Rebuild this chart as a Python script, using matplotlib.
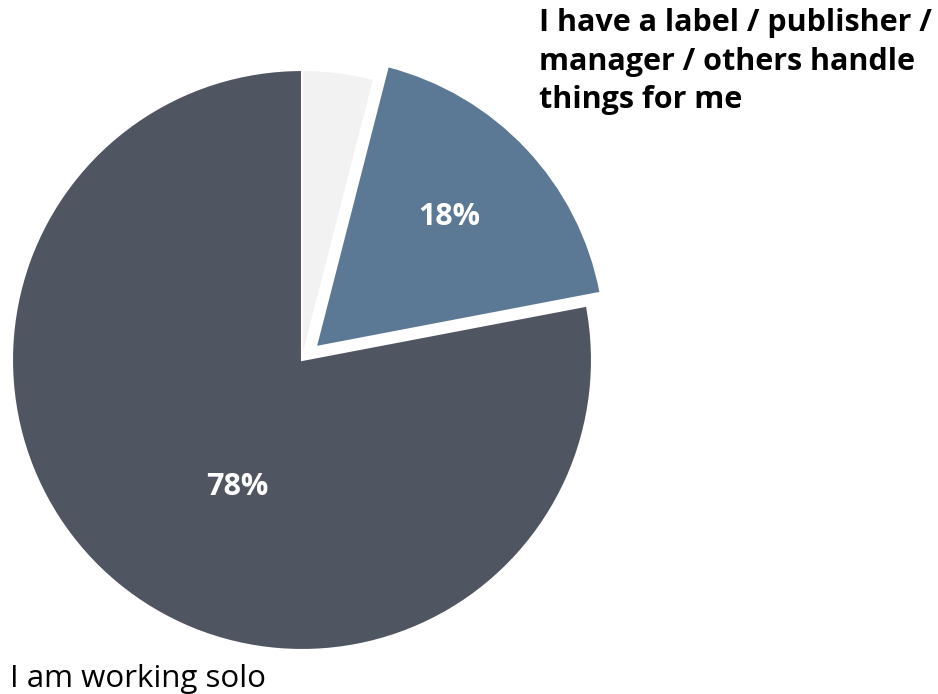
import matplotlib
matplotlib.use("Agg")
import matplotlib.pyplot as plt

plt.rcParams["font.family"] = ["Open Sans", "DejaVu Sans"]

# slices, clockwise from 12 o'clock
labels = ["Other", "I have a label / publisher /\nmanager / others handle\nthings for me", "I am working solo"]
values = [4, 18, 78]
colors = ["#f2f2f2", "#5b7895", "#4f5561"]
explode = [0, 0.065, 0]

W, H = 938, 694
cx, cy, R = 302, 334, 290  # pie centre (from bottom-left) and radius in px

fig = plt.figure(figsize=(W / 100, H / 100), dpi=100)
ax = fig.add_axes([0, 0, 1, 1])

wedges, _, autotexts = ax.pie(
    values,
    colors=colors,
    explode=explode,
    startangle=90,
    counterclock=False,
    radius=1,
    autopct=lambda p: f"{p:.0f}%",
    pctdistance=0.65,
    wedgeprops=dict(edgecolor="white", linewidth=1.5),
    textprops=dict(color="white", fontsize=22, fontweight="bold"),
)
ax.set_xlim(-cx / R, (W - cx) / R)
ax.set_ylim(-cy / R, (H - cy) / R)
ax.set_aspect("equal")
ax.axis("off")

autotexts[0].set_visible(False)
autotexts[1].set_position(((449 - cx) / R, (H - 217 - cy) / R))
autotexts[2].set_position(((237 - cx) / R, (H - 487 - cy) / R))
for t in autotexts:
    t.set_ha("center")
    t.set_va("center")

fig.text(539 / W, 1 - 8 / H, labels[1], ha="left", va="top",
         fontsize=22, fontweight="bold", color="black", linespacing=1.38)
fig.text(10 / W, 1 - 687 / H, labels[2], ha="left", va="baseline",
         fontsize=22.5, color="black")

fig.savefig("out.png", dpi=100)
